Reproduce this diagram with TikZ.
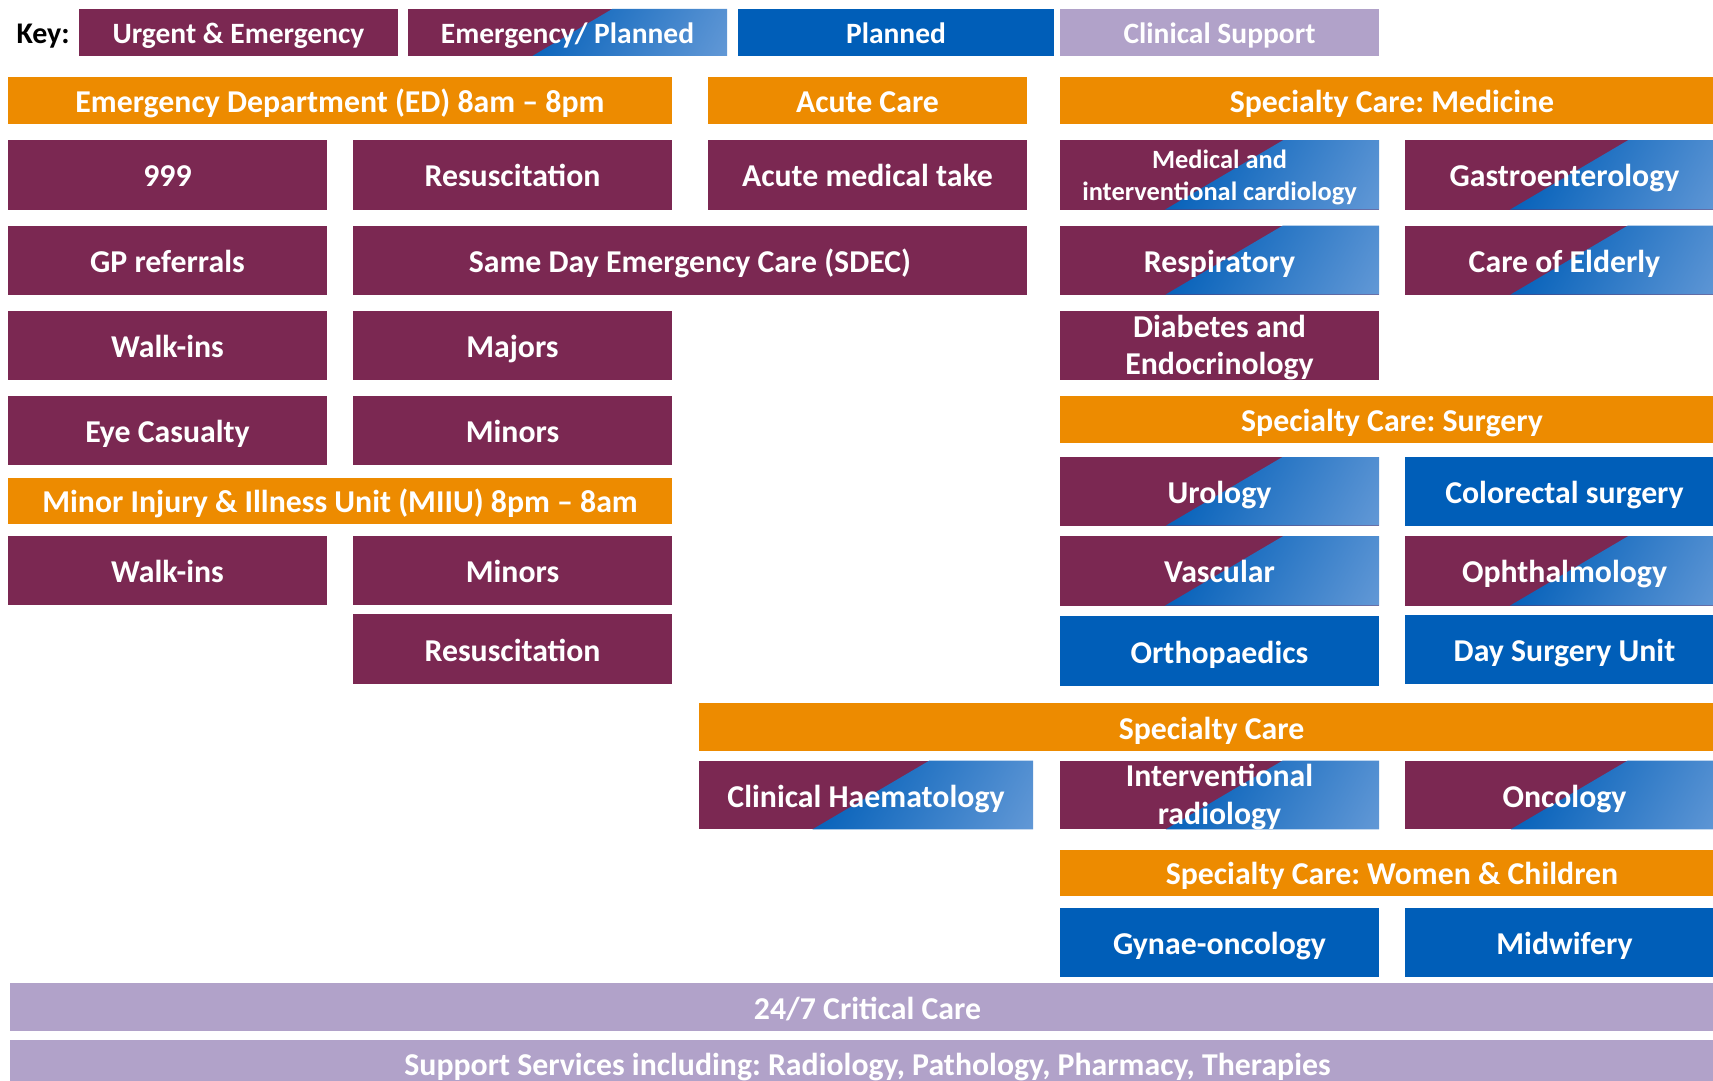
\documentclass[tikz,border=0pt]{standalone}
\usepackage{fontspec}
\setmainfont{Carlito}
\usetikzlibrary{calc}

\definecolor{urgent}{HTML}{7B2852}
\definecolor{nhsblue}{HTML}{005EB8}
\definecolor{paleblue}{HTML}{6FA0DA}
\definecolor{header}{HTML}{ED8B00}
\definecolor{lilac}{HTML}{B1A2C9}

% blue half of the "emergency / planned" cells: solid blue at the split, paling towards the lower right
\pgfdeclareverticalshading{plannedfade}{100bp}{color(0bp)=(paleblue); color(10bp)=(paleblue); color(60bp)=(nhsblue); color(100bp)=(nhsblue)}

\tikzset{
  cellbox/.style={rectangle, inner sep=0pt, outer sep=0pt, text=white,
    font=\bfseries\fontsize{31.8}{37.5}\selectfont, align=center},
  oneline/.style={text height=28.6pt, text depth=4.2pt},
  keyfont/.style={font=\bfseries\fontsize{29.5}{35}\selectfont, text height=27pt, text depth=4pt},
  smallfont/.style={font=\bfseries\fontsize{26.4}{31.5}\selectfont},
  urgentbox/.style={cellbox, fill=urgent},
  plannedbox/.style={cellbox, fill=nhsblue},
  headbox/.style={cellbox, fill=header},
  supportbox/.style={cellbox, fill=lilac},
  mixedbox/.style={cellbox, fill=urgent, path picture={
    \shade[shading=plannedfade, shading angle=61]
      let \p1=(path picture bounding box.south west),
          \p2=(path picture bounding box.north east),
          \n1={\x1+0.515*(\x2-\x1)}, \n2={0.85*(\y2-\y1)} in
      ({(\n1-\n2)*1pt},\y1) -- ({(\n1+\n2)*1pt},\y2) -- (\x2,\y2) -- (\x2,\y1) -- cycle;
  }},
}

% cell: name, style, left, top, right, bottom, text
\newcommand\unitbox[7]{%
  \node[#2, minimum width={(#5-#3)*1pt}, minimum height={(#6-#4)*1pt}]
    (#1) at ({(#3+#5)/2},{(#4+#6)/2}) {#7};}

% two text lines whose first baseline sits a fixed step above the cell centre
% (#1 = strut height for the first line)
\newcommand\pairlines[3]{\rule{0pt}{#1}\smash{#2}\\\smash{#3}}

\begin{document}
\frenchspacing
\begin{tikzpicture}[x=1pt,y=-1pt]
\useasboundingbox (0,0) rectangle (1713,1081);

% key
\node[anchor=west, text=black, font=\bfseries\fontsize{30}{36}\selectfont,
      text height=27pt, text depth=4pt] (keylabel) at (13,32.5) {Key:};
\unitbox{key-ue}{urgentbox,keyfont}{79}{9}{398}{56}{Urgent \& Emergency}
\unitbox{key-ep}{mixedbox,keyfont}{408}{9}{727}{56}{Emergency/ Planned}
\unitbox{key-pl}{plannedbox,keyfont}{738}{9}{1054}{56}{Planned}
\unitbox{key-cs}{supportbox,keyfont}{1060}{9}{1379}{56}{Clinical Support}

% section headers
\unitbox{ed}{headbox,oneline}{8}{77}{672}{124}{Emergency Department (ED) 8am – 8pm}
\unitbox{acute}{headbox,oneline}{708}{77}{1027}{124}{Acute Care}
\unitbox{medicine}{headbox,oneline}{1060}{77}{1724}{124}{Specialty Care: Medicine}

% emergency department
\unitbox{ed999}{urgentbox,oneline}{8}{140}{327}{209.5}{999}
\unitbox{edresus}{urgentbox,oneline}{353}{140}{672}{209.5}{Resuscitation}
\unitbox{gp}{urgentbox,oneline}{8}{225.5}{327}{294.5}{GP referrals}
\unitbox{sdec}{urgentbox,oneline}{353}{225.5}{1027}{294.5}{Same Day Emergency Care (SDEC)}
\unitbox{edwalk}{urgentbox,oneline}{8}{311}{327}{380}{Walk-ins}
\unitbox{majors}{urgentbox,oneline}{353}{311}{672}{380}{Majors}
\unitbox{eye}{urgentbox,oneline}{8}{395.5}{327}{465}{Eye Casualty}
\unitbox{edminors}{urgentbox,oneline}{353}{395.5}{672}{465}{Minors}

% acute care
\unitbox{take}{urgentbox,oneline}{708}{140}{1027}{209.5}{Acute medical take}

% minor injury and illness unit
\unitbox{miiu}{headbox,oneline}{8}{477.5}{672}{524}{Minor Injury \& Illness Unit (MIIU) 8pm – 8am}
\unitbox{miiuwalk}{urgentbox,oneline}{8}{536}{327}{605.3}{Walk-ins}
\unitbox{miiuminors}{urgentbox,oneline}{353}{536}{672}{605.3}{Minors}
\unitbox{miiuresus}{urgentbox,oneline}{353}{614.3}{672}{684}{Resuscitation}

% medicine
\unitbox{cardio}{mixedbox,smallfont}{1060}{140}{1379}{209.5}{\pairlines{19pt}{Medical and}{interventional cardiology}}
\unitbox{gastro}{mixedbox,oneline}{1405}{140}{1724}{209.5}{Gastroenterology}
\unitbox{resp}{mixedbox,oneline}{1060}{225.5}{1379}{294.5}{Respiratory}
\unitbox{elderly}{mixedbox,oneline}{1405}{225.5}{1724}{294.5}{Care of Elderly}
\unitbox{diabetes}{urgentbox}{1060}{311}{1379}{380}{\pairlines{21pt}{Diabetes and}{Endocrinology}}

% surgery
\unitbox{surgery}{headbox,oneline}{1060}{395.5}{1724}{442.5}{Specialty Care: Surgery}
\unitbox{urology}{mixedbox,oneline}{1060}{457}{1379}{525.5}{Urology}
\unitbox{colorectal}{plannedbox,oneline}{1405}{457}{1724}{525.5}{Colorectal surgery}
\unitbox{vascular}{mixedbox,oneline}{1060}{536}{1379}{605.5}{Vascular}
\unitbox{ophth}{mixedbox,oneline}{1405}{536}{1724}{605.5}{Ophthalmology}
\unitbox{ortho}{plannedbox,oneline}{1060}{616}{1379}{685.7}{Orthopaedics}
\unitbox{dsu}{plannedbox,oneline}{1405}{615}{1724}{684}{Day Surgery Unit}

% other specialties
\unitbox{specialty}{headbox,oneline}{699}{703.3}{1724}{750.7}{Specialty Care}
\unitbox{haem}{mixedbox,oneline}{699}{760.5}{1033}{829.3}{Clinical Haematology}
\unitbox{ir}{mixedbox}{1060}{760.5}{1379}{829.3}{\pairlines{21.5pt}{Interventional}{radiology}}
\unitbox{oncology}{mixedbox,oneline}{1405}{760.5}{1724}{829.3}{Oncology}

% women and children
\unitbox{womchild}{headbox,oneline}{1060}{849.5}{1724}{896}{Specialty Care: Women \& Children}
\unitbox{gynae}{plannedbox,oneline}{1060}{908}{1379}{977}{Gynae-oncology}
\unitbox{midwifery}{plannedbox,oneline}{1405}{908}{1724}{977}{Midwifery}

% clinical support
\unitbox{critical}{supportbox,oneline}{10}{983.3}{1725}{1030.7}{24/7 Critical Care}
\unitbox{services}{supportbox,oneline}{10}{1039.7}{1725}{1087}{Support Services including: Radiology, Pathology, Pharmacy, Therapies}
\end{tikzpicture}
\end{document}
